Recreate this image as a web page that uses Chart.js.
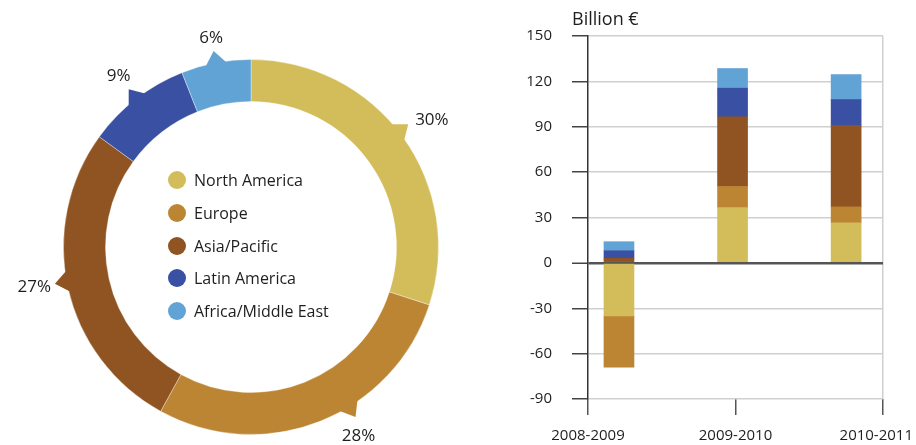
<!DOCTYPE html>
<html>
<head>
<meta charset="utf-8">
<script src="https://cdn.jsdelivr.net/npm/chart.js@4.4.1/dist/chart.umd.min.js"></script>
<style>
  html, body { margin: 0; padding: 0; background: #fff; }
  body { width: 916px; height: 445px; position: relative; overflow: hidden;
         font-family: "Open Sans", "Noto Sans", sans-serif; color: #1e1e1e; }
  #shareWrap { position: absolute; left: 0; top: 0; width: 502px; height: 445px; }
  #flowWrap { position: absolute; left: 500px; top: 0; width: 416px; height: 445px; }
  #unit { position: absolute; left: 572px; top: 6px; font-size: 18px; }
  #legend { position: absolute; left: 168px; top: 168px; margin: 0; padding: 0; list-style: none; }
  #legend li { height: 32.75px; line-height: 24px; font-size: 16px; display: flex; align-items: flex-start; }
  #legend .dot { width: 18px; height: 18px; border-radius: 50%; margin: 3px 8px 0 0; }
</style>
</head>
<body>
<div id="shareWrap"><canvas id="chartShare"></canvas></div>
<div id="flowWrap"><canvas id="chartFlow"></canvas></div>
<div id="unit">Billion €</div>
<ul id="legend"></ul>
<script>
const regions = ["North America", "Europe", "Asia/Pacific", "Latin America", "Africa/Middle East"];
const regionColors = ["#d3bd5b", "#bc8534", "#8f5421", "#3a50a3", "#62a3d6"];
const sharePct = [30, 28, 27, 9, 6];

const periods = ["2008-2009", "2009-2010", "2010-2011"];
const barSlot = [0.21, 0.98, 1.75];
const northAmerica = [-35, 36.5, 26.5];
const europe = [-34, 14, 10.5];
const asiaPacific = [3, 46, 54];
const latinAmerica = [5, 19, 17];
const africaMiddleEast = [6, 13, 16.5];

const FONT = "'Open Sans', 'Noto Sans', sans-serif";
const INK = "#1e1e1e";

// legend sits inside the ring
const legendEl = document.getElementById("legend");
regions.forEach((name, i) => {
  const li = document.createElement("li");
  const dot = document.createElement("span");
  dot.className = "dot";
  dot.style.background = regionColors[i];
  li.appendChild(dot);
  li.appendChild(document.createTextNode(name));
  legendEl.appendChild(li);
});

// little tail on the ring + percentage next to it
const callouts = {
  id: "callouts",
  afterDatasetsDraw(chart, args, opts) {
    const ctx = chart.ctx;
    const arcs = chart.getDatasetMeta(0).data;
    const deg = Math.PI / 180;
    ctx.save();
    ctx.font = `17px ${FONT}`;
    ctx.textAlign = "center";
    ctx.textBaseline = "middle";
    arcs.forEach((arc, i) => {
      const a = (arc.startAngle + arc.endAngle) / 2 + (opts.shift[i] || 0) * deg;
      const r = arc.outerRadius;
      const half = 3.2 * deg;
      ctx.fillStyle = regionColors[i];
      ctx.beginPath();
      ctx.moveTo(arc.x + Math.cos(a - half) * (r - 1), arc.y + Math.sin(a - half) * (r - 1));
      ctx.lineTo(arc.x + Math.cos(a) * (r + 12), arc.y + Math.sin(a) * (r + 12));
      ctx.lineTo(arc.x + Math.cos(a + half) * (r - 1), arc.y + Math.sin(a + half) * (r - 1));
      ctx.closePath();
      ctx.fill();

      const la = a + (opts.labelShift[i] || 0) * deg;
      const txt = chart.data.datasets[0].data[i] + "%";
      const w = ctx.measureText(txt).width;
      const c = Math.cos(la), s = Math.sin(la);
      const lr = r + 15 + Math.abs(c) * w / 2 + Math.abs(s) * 8;
      ctx.fillStyle = INK;
      ctx.fillText(txt, arc.x + c * lr, arc.y + s * lr);
    });
    ctx.restore();
  }
};

new Chart(document.getElementById("chartShare"), {
  type: "doughnut",
  data: {
    labels: regions,
    datasets: [{
      data: sharePct,
      backgroundColor: regionColors,
      borderColor: "rgba(255,255,255,0.35)",
      borderWidth: 1
    }]
  },
  options: {
    responsive: true,
    maintainAspectRatio: false,
    animation: false,
    cutout: "77.6%",
    layout: { padding: { top: 59, bottom: 10, left: 63, right: 63 } },
    plugins: {
      legend: { display: false },
      tooltip: { enabled: false },
      callouts: { shift: [-2, -10, 2, 0, 0], labelShift: [3, 2, 0, 0, 0] }
    }
  },
  plugins: [callouts]
});

// keep the last period label inside the canvas instead of centring it on its tick
const keepLabelsInside = {
  id: "keepLabelsInside",
  beforeDraw(chart) {
    const s = chart.scales.x;
    const items = s.getLabelItems();
    const last = items[items.length - 1];
    if (!last) return;
    chart.ctx.save();
    chart.ctx.font = last.font.string;
    const w = chart.ctx.measureText(last.label).width;
    chart.ctx.restore();
    const edge = chart.width - 3;
    if (last.options.translation[0] + w / 2 > edge) {
      last.options.translation[0] = edge;
      last.options.textAlign = "right";
    }
  }
};

const series = [northAmerica, europe, asiaPacific, latinAmerica, africaMiddleEast];

new Chart(document.getElementById("chartFlow"), {
  type: "bar",
  data: {
    datasets: series.map((vals, i) => ({
      label: regions[i],
      data: vals.map((v, k) => ({ x: barSlot[k], y: v })),
      backgroundColor: regionColors[i],
      borderWidth: 0,
      barThickness: 30
    }))
  },
  options: {
    responsive: true,
    maintainAspectRatio: false,
    animation: false,
    layout: { padding: { top: 36, right: 33, left: 0, bottom: 0 } },
    plugins: { legend: { display: false }, tooltip: { enabled: false } },
    scales: {
      x: {
        type: "linear",
        stacked: true,
        offset: false,
        min: 0,
        max: 2,
        afterFit(s) { s.height = 46; s.paddingRight = 0; s.paddingLeft = 0; },
        ticks: {
          stepSize: 1,
          padding: 12,
          color: INK,
          font: { family: FONT, size: 15 },
          callback: v => periods[v] ?? ""
        },
        grid: {
          offset: false,
          color: c => (c.index === 2 ? "#d0d0d0" : "rgba(0,0,0,0)"),
          lineWidth: 1.5,
          tickColor: "#555",
          tickWidth: 1.5,
          tickLength: 16
        },
        border: { display: false }
      },
      y: {
        stacked: true,
        min: -90,
        max: 150,
        afterFit(s) { s.width = 88; },
        ticks: {
          stepSize: 30,
          padding: 20,
          color: INK,
          font: { family: FONT, size: 15 }
        },
        grid: {
          color: c => (c.tick && c.tick.value === 0 ? "#555" : "#d0d0d0"),
          lineWidth: c => (c.tick && c.tick.value === 0 ? 2.5 : 1.5),
          tickColor: "#444",
          tickWidth: 1.5,
          tickLength: 16
        },
        border: { color: "#333", width: 1.5 }
      }
    }
  },
  plugins: [keepLabelsInside]
});
</script>
</body>
</html>
